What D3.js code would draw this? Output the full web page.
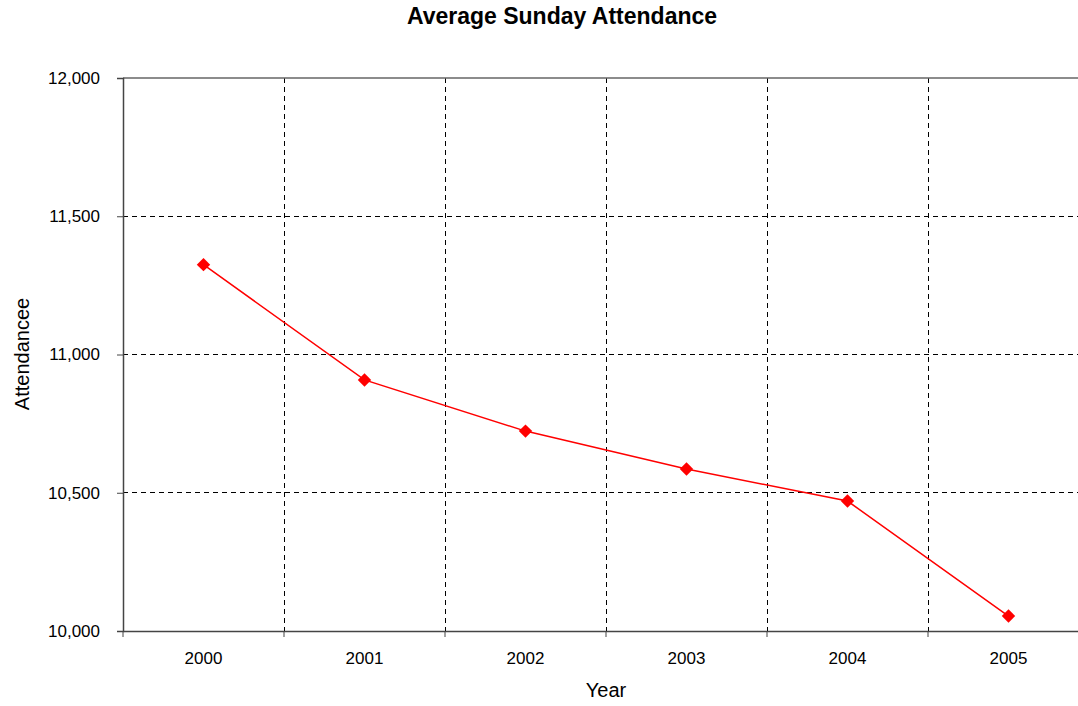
<!DOCTYPE html>
<html>
<head>
<meta charset="utf-8">
<script src="https://cdn.jsdelivr.net/npm/d3@7"></script>
<style>
  body { margin: 0; background: #fff; }
  svg { display: block; }
</style>
</head>
<body>
<svg id="chart"></svg>
<script>
// data
const years = ['2000', '2001', '2002', '2003', '2004', '2005'];
const attendance = [11325, 10908, 10723, 10586, 10470, 10054];
const yTicks = [10000, 10500, 11000, 11500, 12000];

const FONT = '"Liberation Sans", Arial, sans-serif';
const width = 1078, height = 706;
const margin = { top: 78, left: 123, bottom: 75 };
const bandW = 161;
const plotW = bandW * years.length;
const plotH = height - margin.top - margin.bottom;

const svg = d3.select('#chart').attr('width', width).attr('height', height)
  .style('font-family', FONT);
const g = svg.append('g').attr('transform', `translate(${margin.left},${margin.top})`);

const x = d3.scaleBand().domain(years).range([0, plotW]);
const y = d3.scaleLinear().domain([10000, 12000]).range([plotH, 0]);

// horizontal grid
g.selectAll('.hgrid').data(yTicks.filter(d => d > 10000 && d < 12000)).enter()
  .append('line')
  .attr('x1', 0).attr('x2', plotW)
  .attr('y1', d => y(d)).attr('y2', d => y(d))
  .attr('stroke', '#000').attr('stroke-dasharray', '5,4').attr('shape-rendering', 'crispEdges');

// vertical grid at band boundaries
const bounds = years.slice(1).map(d => x(d));
g.selectAll('.vgrid').data(bounds).enter()
  .append('line')
  .attr('x1', d => d).attr('x2', d => d)
  .attr('y1', 0).attr('y2', plotH)
  .attr('stroke', '#000').attr('stroke-dasharray', '5,4').attr('shape-rendering', 'crispEdges');

// top border
g.append('line').attr('x1', 0).attr('x2', plotW).attr('y1', 0).attr('y2', 0)
  .attr('stroke', '#666').attr('stroke-width', 1.5);

// y axis
const yAxis = d3.axisLeft(y).tickValues(yTicks).tickSize(6).tickPadding(17)
  .tickFormat(d3.format(','));
const yG = g.append('g').call(yAxis)
  .attr('font-family', FONT).attr('font-size', 17);
yG.select('.domain').attr('stroke', '#444').attr('stroke-width', 1.5);
yG.selectAll('.tick line').attr('stroke', '#444');
yG.selectAll('.tick text').attr('fill', '#000');

// x axis
const xG = g.append('g').attr('transform', `translate(0,${plotH})`)
  .call(d3.axisBottom(x).tickSize(0).tickPadding(21))
  .attr('font-family', FONT).attr('font-size', 17);
xG.select('.domain').attr('stroke', '#444').attr('stroke-width', 1.5);
xG.selectAll('.tick text').attr('fill', '#000');
xG.selectAll('.btick').data([0].concat(bounds)).enter()
  .append('line')
  .attr('x1', d => d).attr('x2', d => d).attr('y1', 0).attr('y2', 6)
  .attr('stroke', '#444');

// line and markers
const cx = d => x(d) + x.bandwidth() / 2;
const line = d3.line().x((d, i) => cx(years[i])).y(d => y(d));
g.append('path').datum(attendance)
  .attr('d', line).attr('fill', 'none').attr('stroke', '#ff0000').attr('stroke-width', 1.5);

g.selectAll('.pt').data(attendance).enter()
  .append('path')
  .attr('d', d3.symbol().type(d3.symbolSquare).size(90))
  .attr('transform', (d, i) => `translate(${cx(years[i])},${y(d)}) rotate(45)`)
  .attr('fill', '#ff0000');

// titles
svg.append('text').attr('x', 562).attr('y', 24).attr('text-anchor', 'middle')
  .attr('font-size', 23).attr('font-weight', 'bold').text('Average Sunday Attendance');
svg.append('text').attr('x', 606).attr('y', 697).attr('text-anchor', 'middle')
  .attr('font-size', 20).text('Year');
svg.append('text').attr('transform', 'translate(29,354) rotate(-90)').attr('text-anchor', 'middle')
  .attr('font-size', 20).text('Attendancee');
</script>
</body>
</html>
